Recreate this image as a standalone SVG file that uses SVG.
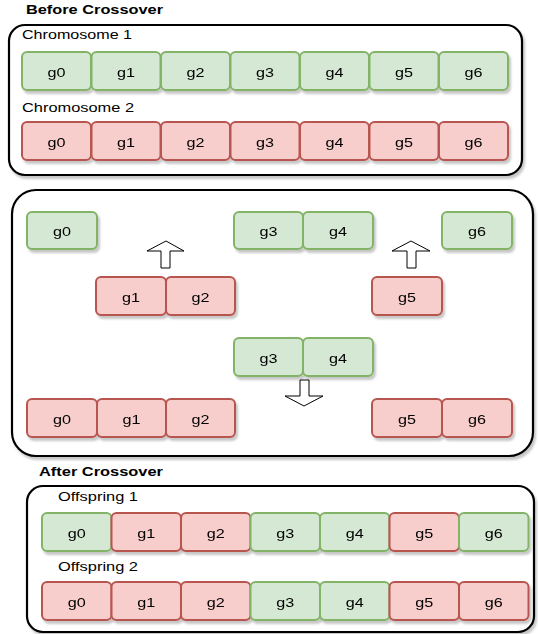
<svg xmlns="http://www.w3.org/2000/svg" width="538" height="634" viewBox="0 0 538 634">
<defs>
<filter id="sh" x="-20%" y="-20%" width="140%" height="150%">
<feDropShadow dx="2" dy="3" stdDeviation="0.8" flood-color="#000" flood-opacity="0.22"/>
</filter>
<style>
text{font-family:"Liberation Sans",Arial,sans-serif;fill:#000}
.t{font-size:13px;text-anchor:middle;dominant-baseline:central}
.lbl{font-size:12.5px}
.hd{font-size:12px;font-weight:bold}
.g rect{fill:#d5e8d4;stroke:#82b366;stroke-width:2}
.r rect{fill:#f8cecc;stroke:#b85450;stroke-width:2}
.box{fill:#fff;stroke:#000;stroke-width:2.2}
.arr{fill:#fff;stroke:#000;stroke-width:1}
</style>
</defs>
<rect width="538" height="634" fill="#fff"/>

<!-- Before Crossover -->
<text class="hd" x="26" y="14" textLength="137" lengthAdjust="spacingAndGlyphs">Before Crossover</text>
<g id="before">
<rect class="box" x="9" y="25" width="513" height="150" rx="16" filter="url(#sh)"/>
<text class="lbl" x="22" y="39" textLength="110" lengthAdjust="spacingAndGlyphs">Chromosome 1</text>
<text class="lbl" x="22" y="112" textLength="112" lengthAdjust="spacingAndGlyphs">Chromosome 2</text>
</g>
<g id="c1" class="g" filter="url(#sh)">
<g id="c1g0"><rect x="22" y="52" width="69" height="38" rx="5"/><text class="t" x="56.5" y="72" textLength="18" lengthAdjust="spacingAndGlyphs">g0</text></g>
<g id="c1g1"><rect x="91.5" y="52" width="69" height="38" rx="5"/><text class="t" x="126" y="72" textLength="18" lengthAdjust="spacingAndGlyphs">g1</text></g>
<g id="c1g2"><rect x="161" y="52" width="69" height="38" rx="5"/><text class="t" x="195.5" y="72" textLength="18" lengthAdjust="spacingAndGlyphs">g2</text></g>
<g id="c1g3"><rect x="230.5" y="52" width="69" height="38" rx="5"/><text class="t" x="265" y="72" textLength="18" lengthAdjust="spacingAndGlyphs">g3</text></g>
<g id="c1g4"><rect x="300" y="52" width="69" height="38" rx="5"/><text class="t" x="334.5" y="72" textLength="18" lengthAdjust="spacingAndGlyphs">g4</text></g>
<g id="c1g5"><rect x="369.5" y="52" width="69" height="38" rx="5"/><text class="t" x="404" y="72" textLength="18" lengthAdjust="spacingAndGlyphs">g5</text></g>
<g id="c1g6"><rect x="439" y="52" width="69" height="38" rx="5"/><text class="t" x="473.5" y="72" textLength="18" lengthAdjust="spacingAndGlyphs">g6</text></g>
</g>
<g id="c2" class="r" filter="url(#sh)">
<g id="c2g0"><rect x="22" y="122" width="69" height="38" rx="5"/><text class="t" x="56.5" y="142" textLength="18" lengthAdjust="spacingAndGlyphs">g0</text></g>
<g id="c2g1"><rect x="91.5" y="122" width="69" height="38" rx="5"/><text class="t" x="126" y="142" textLength="18" lengthAdjust="spacingAndGlyphs">g1</text></g>
<g id="c2g2"><rect x="161" y="122" width="69" height="38" rx="5"/><text class="t" x="195.5" y="142" textLength="18" lengthAdjust="spacingAndGlyphs">g2</text></g>
<g id="c2g3"><rect x="230.5" y="122" width="69" height="38" rx="5"/><text class="t" x="265" y="142" textLength="18" lengthAdjust="spacingAndGlyphs">g3</text></g>
<g id="c2g4"><rect x="300" y="122" width="69" height="38" rx="5"/><text class="t" x="334.5" y="142" textLength="18" lengthAdjust="spacingAndGlyphs">g4</text></g>
<g id="c2g5"><rect x="369.5" y="122" width="69" height="38" rx="5"/><text class="t" x="404" y="142" textLength="18" lengthAdjust="spacingAndGlyphs">g5</text></g>
<g id="c2g6"><rect x="439" y="122" width="69" height="38" rx="5"/><text class="t" x="473.5" y="142" textLength="18" lengthAdjust="spacingAndGlyphs">g6</text></g>
</g>

<!-- Crossover process -->
<g id="process">
<rect class="box" x="12" y="190" width="521" height="266" rx="24" filter="url(#sh)"/>
</g>
<g id="mg" class="g" filter="url(#sh)">
<g id="m1g0"><rect x="27" y="212" width="70" height="37" rx="5"/><text class="t" x="62" y="231.5" textLength="18" lengthAdjust="spacingAndGlyphs">g0</text></g>
<g id="m1g3"><rect x="234" y="212" width="69" height="37" rx="5"/><text class="t" x="268.5" y="231.5" textLength="18" lengthAdjust="spacingAndGlyphs">g3</text></g>
<g id="m1g4"><rect x="303" y="212" width="70" height="37" rx="5"/><text class="t" x="338" y="231.5" textLength="18" lengthAdjust="spacingAndGlyphs">g4</text></g>
<g id="m1g6"><rect x="442" y="212" width="70" height="37" rx="5"/><text class="t" x="477" y="231.5" textLength="18" lengthAdjust="spacingAndGlyphs">g6</text></g>
<g id="m3g3"><rect x="234" y="338" width="69" height="38" rx="5"/><text class="t" x="268.5" y="358" textLength="18" lengthAdjust="spacingAndGlyphs">g3</text></g>
<g id="m3g4"><rect x="303" y="338" width="70" height="38" rx="5"/><text class="t" x="338" y="358" textLength="18" lengthAdjust="spacingAndGlyphs">g4</text></g>
</g>
<g id="mr" class="r" filter="url(#sh)">
<g id="m2g1"><rect x="96" y="277" width="70" height="38" rx="5"/><text class="t" x="131" y="297" textLength="18" lengthAdjust="spacingAndGlyphs">g1</text></g>
<g id="m2g2"><rect x="166" y="277" width="69" height="38" rx="5"/><text class="t" x="200.5" y="297" textLength="18" lengthAdjust="spacingAndGlyphs">g2</text></g>
<g id="m2g5"><rect x="372" y="277" width="70" height="38" rx="5"/><text class="t" x="407" y="297" textLength="18" lengthAdjust="spacingAndGlyphs">g5</text></g>
<g id="m4g0"><rect x="27" y="399" width="70" height="38" rx="5"/><text class="t" x="62" y="419" textLength="18" lengthAdjust="spacingAndGlyphs">g0</text></g>
<g id="m4g1"><rect x="97" y="399" width="69" height="38" rx="5"/><text class="t" x="131.5" y="419" textLength="18" lengthAdjust="spacingAndGlyphs">g1</text></g>
<g id="m4g2"><rect x="166" y="399" width="69" height="38" rx="5"/><text class="t" x="200.5" y="419" textLength="18" lengthAdjust="spacingAndGlyphs">g2</text></g>
<g id="m4g5"><rect x="372" y="399" width="70" height="38" rx="5"/><text class="t" x="407" y="419" textLength="18" lengthAdjust="spacingAndGlyphs">g5</text></g>
<g id="m4g6"><rect x="442" y="399" width="70" height="38" rx="5"/><text class="t" x="477" y="419" textLength="18" lengthAdjust="spacingAndGlyphs">g6</text></g>
</g>
<g id="arrows">
<polygon class="arr" points="166,241 184,251 170,251 170,268 161,268 161,251 147,251"/>
<polygon class="arr" points="411,241 430,251 416,251 416,268 407,268 407,251 392,251"/>
<polygon class="arr" points="300,380 309,380 309,396 323,396 304,406 285,396 300,396"/>
</g>

<!-- After Crossover -->
<text class="hd" x="39" y="476" textLength="124" lengthAdjust="spacingAndGlyphs">After Crossover</text>
<g id="after">
<rect class="box" x="27" y="486" width="507" height="146" rx="16" filter="url(#sh)"/>
<text class="lbl" x="58" y="500.5" textLength="80" lengthAdjust="spacingAndGlyphs">Offspring 1</text>
<text class="lbl" x="58" y="571" textLength="80" lengthAdjust="spacingAndGlyphs">Offspring 2</text>
</g>
<g id="o1">
<g id="o1g0" class="g" filter="url(#sh)"><rect x="42" y="513" width="69.5" height="38" rx="5"/><text class="t" x="76.75" y="533" textLength="18" lengthAdjust="spacingAndGlyphs">g0</text></g>
<g id="o1g1" class="r" filter="url(#sh)"><rect x="111.5" y="513" width="69.5" height="38" rx="5"/><text class="t" x="146.25" y="533" textLength="18" lengthAdjust="spacingAndGlyphs">g1</text></g>
<g id="o1g2" class="r" filter="url(#sh)"><rect x="181" y="513" width="69.5" height="38" rx="5"/><text class="t" x="215.75" y="533" textLength="18" lengthAdjust="spacingAndGlyphs">g2</text></g>
<g id="o1g3" class="g" filter="url(#sh)"><rect x="250.5" y="513" width="69.5" height="38" rx="5"/><text class="t" x="285.25" y="533" textLength="18" lengthAdjust="spacingAndGlyphs">g3</text></g>
<g id="o1g4" class="g" filter="url(#sh)"><rect x="320" y="513" width="69.5" height="38" rx="5"/><text class="t" x="354.75" y="533" textLength="18" lengthAdjust="spacingAndGlyphs">g4</text></g>
<g id="o1g5" class="r" filter="url(#sh)"><rect x="389.5" y="513" width="69.5" height="38" rx="5"/><text class="t" x="424.25" y="533" textLength="18" lengthAdjust="spacingAndGlyphs">g5</text></g>
<g id="o1g6" class="g" filter="url(#sh)"><rect x="459" y="513" width="69.5" height="38" rx="5"/><text class="t" x="493.75" y="533" textLength="18" lengthAdjust="spacingAndGlyphs">g6</text></g>
</g>
<g id="o2">
<g id="o2g0" class="r" filter="url(#sh)"><rect x="42" y="582" width="69.5" height="38" rx="5"/><text class="t" x="76.75" y="602" textLength="18" lengthAdjust="spacingAndGlyphs">g0</text></g>
<g id="o2g1" class="r" filter="url(#sh)"><rect x="111.5" y="582" width="69.5" height="38" rx="5"/><text class="t" x="146.25" y="602" textLength="18" lengthAdjust="spacingAndGlyphs">g1</text></g>
<g id="o2g2" class="r" filter="url(#sh)"><rect x="181" y="582" width="69.5" height="38" rx="5"/><text class="t" x="215.75" y="602" textLength="18" lengthAdjust="spacingAndGlyphs">g2</text></g>
<g id="o2g3" class="g" filter="url(#sh)"><rect x="250.5" y="582" width="69.5" height="38" rx="5"/><text class="t" x="285.25" y="602" textLength="18" lengthAdjust="spacingAndGlyphs">g3</text></g>
<g id="o2g4" class="g" filter="url(#sh)"><rect x="320" y="582" width="69.5" height="38" rx="5"/><text class="t" x="354.75" y="602" textLength="18" lengthAdjust="spacingAndGlyphs">g4</text></g>
<g id="o2g5" class="r" filter="url(#sh)"><rect x="389.5" y="582" width="69.5" height="38" rx="5"/><text class="t" x="424.25" y="602" textLength="18" lengthAdjust="spacingAndGlyphs">g5</text></g>
<g id="o2g6" class="r" filter="url(#sh)"><rect x="459" y="582" width="69.5" height="38" rx="5"/><text class="t" x="493.75" y="602" textLength="18" lengthAdjust="spacingAndGlyphs">g6</text></g>
</g>
</svg>
